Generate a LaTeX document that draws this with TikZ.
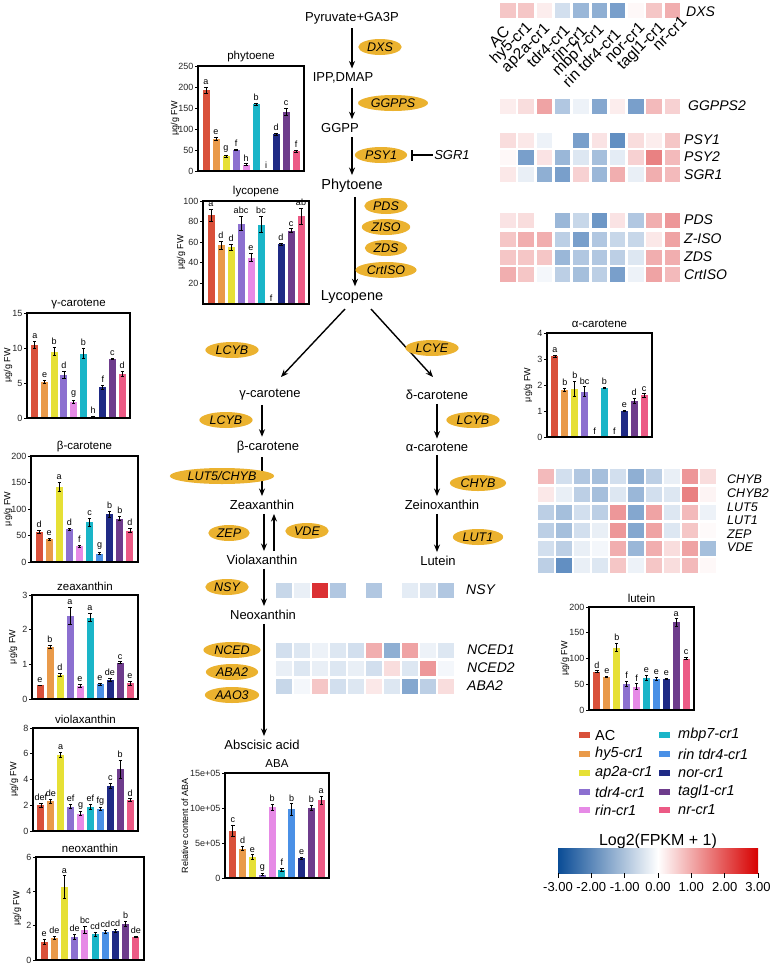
\documentclass[tikz,border=0pt]{standalone}
\usepackage{fontspec}
\setmainfont{Liberation Sans}
\usetikzlibrary{arrows.meta,shapes.geometric}
\newcommand\myfs[1]{\fontsize{#1}{#1}\selectfont}
\definecolor{gc1}{HTML}{D9503A}
\definecolor{gc2}{HTML}{E99A4A}
\definecolor{gc3}{HTML}{E6E035}
\definecolor{gc4}{HTML}{8C70D0}
\definecolor{gc5}{HTML}{E68AE6}
\definecolor{gc6}{HTML}{1AB5C8}
\definecolor{gc7}{HTML}{4A90E6}
\definecolor{gc8}{HTML}{1F2A85}
\definecolor{gc9}{HTML}{6E3C8C}
\definecolor{gc10}{HTML}{EC5A85}
\definecolor{hr}{HTML}{D7191C}
\definecolor{hb}{HTML}{1F5FA8}
\definecolor{ellc}{HTML}{EBB22F}
\definecolor{cbl}{HTML}{0A4C96}
\definecolor{cbr}{HTML}{D70000}
\tikzset{
 met/.style={inner sep=1pt,font=\myfs{13}},
 bigmet/.style={inner sep=1pt,font=\myfs{14.5}},
 enz/.style={ellipse,fill=ellc,inner xsep=2.5pt,inner ysep=0pt,minimum height=16pt,font=\myfs{12.5}\itshape},
 arr/.style={line width=1.4pt,-{Stealth[length=7.5pt,width=6pt]},shorten <=3pt,shorten >=3pt},
 cframe/.style={line width=2.3pt},
 ebar/.style={line width=0.9pt},
 blet/.style={anchor=south,inner sep=0pt,font=\myfs{9}},
 tlab/.style={anchor=east,inner sep=0.5pt,font=\myfs{9},text=black!85},
 ctit/.style={inner sep=0pt,font=\myfs{11.5}},
 ylab/.style={rotate=90,inner sep=0pt,font=\myfs{9}},
 glab/.style={anchor=west,inner sep=0pt,font=\myfs{14}\itshape},
 slab/.style={anchor=west,inner sep=0pt,font=\myfs{12.5}\itshape},
 clab/.style={anchor=east,rotate=45,inner sep=0pt,font=\myfs{15.5}},
 leg/.style={anchor=west,inner sep=0pt,font=\myfs{14.5}},
}
% bar chart: #1 id, #2 x0, #3 ytop, #4 x1, #5 ybot, #6 ymax, #7 title, #8 ticks, #9 data
\newcommand\bchart[9]{%
 \pgfmathsetmacro\cs{(#5-#3)/#6}%
 \pgfmathsetmacro\cp{(#4-#2-6)/10}%
 \foreach \bv/\be/\bl [count=\bi] in {#9}{%
   \pgfmathsetmacro\xc{#2+3+(\bi-0.5)*\cp}%
   \pgfmathsetmacro\yt{#5-\bv*\cs}%
   \pgfmathsetmacro\ye{#5-(\bv+\be)*\cs}%
   \pgfmathsetmacro\yl{#5-(\bv-\be)*\cs}%
   \fill[gc\bi] (\xc-3.5,#5) rectangle (\xc+3.5,\yt);
   \draw[ebar] (\xc,\ye) -- (\xc,\yl) (\xc-1.6,\ye) -- (\xc+1.6,\ye) (\xc-1.6,\yl) -- (\xc+1.6,\yl);
   \node[blet] (#1l\bi) at (\xc,\ye-2.5) {\bl};
 }%
 \draw[cframe] (#2,#3) rectangle (#4,#5);
 \foreach \tv/\tl [count=\ti] in {#8}{%
   \pgfmathsetmacro\yy{#5-\tv*\cs}%
   \draw[line width=0.8pt] (#2-1,\yy) -- (#2-3.5,\yy);
   \node[tlab] (#1t\ti) at (#2-4,\yy) {\tl};
 }%
 \node[ctit] (#1title) at ({(#2+#4)/2},#3-9) {#7};
 \node[ylab] (#1ylab) at (#2-\ylaboff,{(#3+#5)/2}) {\ylabtext};
}
% heat row: #1 x start, #2 y center, #3 pitch, #4 values
\newcommand\hrow[4]{%
 \foreach \hv [count=\hi] in {#4}{%
   \pgfmathtruncatemacro\ha{abs(\hv)}%
   \ifnum\hv<0 \def\hc{hb}\else\def\hc{hr}\fi
   \fill[\hc!\ha!white] ({#1+(\hi-1)*#3},{#2-7.5}) rectangle ++(15.5,15);
 }}
\begin{document}
\begin{tikzpicture}[x=1pt,y=-1pt]
\useasboundingbox (0,0) rectangle (777,967);
\fill[white] (0,0) rectangle (777,967);
% ---------------- pathway ----------------
\node[met] (pyr) at (352,18) {Pyruvate+GA3P};
\node[met] (ipp) at (343,78) {IPP,DMAP};
\node[met] (ggpp) at (340,128) {GGPP};
\node[bigmet] (phy) at (352,186) {Phytoene};
\node[bigmet] (lyc) at (352,297) {Lycopene};
\draw[arr] (pyr.south) -- (pyr.south |- ipp.north);
\draw[arr] ([xshift=9pt]ipp.south) -- ([xshift=9pt]ipp.south |- ggpp.north);
\draw[arr] ([xshift=12pt]ggpp.south) -- ([xshift=12pt]ggpp.south |- phy.north);
\draw[arr] ([xshift=3pt]phy.south) -- ([xshift=3pt]phy.south |- lyc.north);
\node[enz] (dxs) at (380,47) {DXS};
\node[enz] (ggpps) at (393,103) {GGPPS};
\node[enz] (psy) at (381,155) {PSY1};
\node[met,font=\myfs{13}\itshape] (sgr) at (452,155) {SGR1};
\draw[line width=1.3pt,-{Bar[width=11pt,line width=1.3pt]}] (sgr.west) -- ([xshift=4pt]psy.east);
\node[enz] (pds) at (386,206) {PDS};
\node[enz] (ziso) at (386,227) {ZISO};
\node[enz] (zds) at (386,248) {ZDS};
\node[enz] (crtiso) at (386,270) {CrtISO};
% branches
\node[met] (gcar) at (270,395) {γ-carotene};
\node[met] (bcar) at (268,447) {β-carotene};
\node[met] (zea) at (262,505) {Zeaxanthin};
\node[met] (vio) at (262,560) {Violaxanthin};
\node[met] (neo) at (263,615) {Neoxanthin};
\node[met] (absc) at (262,745) {Abscisic acid};
\node[met] (dcar) at (437,395) {δ-carotene};
\node[met] (acar) at (437,447) {α-carotene};
\node[met] (zein) at (442,505) {Zeinoxanthin};
\node[met] (lute) at (438,561) {Lutein};
\coordinate (ls) at (345,309);
\coordinate (le) at (281,377);
\coordinate (rs) at (371,309);
\coordinate (re) at (433,377);
\draw[arr,shorten <=0pt,shorten >=0pt] (ls) -- (le);
\draw[arr,shorten <=0pt,shorten >=0pt] (rs) -- (re);
\node[enz] (lcyb1) at (232,350) {LCYB};
\node[enz] (lcye) at (432,348) {LCYE};
\draw[arr] (gcar.south -| 262,0) -- (bcar.north -| 262,0);
\draw[arr] (bcar.south -| 262,0) -- (zea.north -| 262,0);
\draw[arr] (zea.south -| 264,0) -- (vio.north -| 264,0);
\draw[arr] (vio.north -| 274,0) -- (zea.south -| 274,0);
\draw[arr] (vio.south -| 264,0) -- (neo.north -| 264,0);
\draw[arr] (neo.south -| 264,0) -- (absc.north -| 264,0);
\draw[arr] (dcar.south -| 437,0) -- (acar.north -| 437,0);
\draw[arr] (acar.south -| 437,0) -- (zein.north -| 437,0);
\draw[arr] (zein.south -| 437,0) -- (lute.north -| 437,0);
\node[enz] (lcyb2) at (226,420) {LCYB};
\node[enz] (lutchyb) at (222,476) {LUT5/CHYB};
\node[enz] (zep) at (229,533) {ZEP};
\node[enz] (vde) at (307,531) {VDE};
\node[enz] (nsy) at (227,587) {NSY};
\node[enz] (nced) at (232,650) {NCED};
\node[enz] (aba2) at (232,672) {ABA2};
\node[enz] (aao3) at (232,695) {AAO3};
\node[enz] (lcyb3) at (473,420) {LCYB};
\node[enz] (chyb) at (478,483) {CHYB};
\node[enz] (lut1) at (478,537) {LUT1};
% ---------------- heatmaps ----------------
\hrow{500}{10}{18.3}{25,25,8,-20,-45,-50,-60,3,25,35}
\hrow{500}{106}{18.3}{8,15,40,-35,-8,-55,8,-60,30,20}
\hrow{500}{140}{18.3}{15,10,-8,0,-60,12,-70,15,8,25}
\hrow{500}{157}{18.3}{3,-60,12,-45,-15,-40,-12,20,55,30}
\hrow{500}{174}{18.3}{10,-10,-50,-60,20,-45,35,-10,35,30}
\hrow{500}{220}{18.3}{12,15,0,-45,-25,-65,12,-35,35,45}
\hrow{500}{239}{18.3}{25,35,35,-30,-60,-35,-25,-25,10,40}
\hrow{500}{257}{18.3}{25,25,25,-45,-35,-35,-30,-15,35,35}
\hrow{500}{274}{18.3}{35,25,-5,-30,-40,-30,-60,-8,40,30}
\node[glab] (hDXS) at (686,12) {DXS};
\node[glab] (hGGPPS2) at (688,106) {GGPPS2};
\node[glab] (hPSY1) at (684,140) {PSY1};
\node[glab] (hPSY2) at (684,157) {PSY2};
\node[glab] (hSGR1) at (684,175) {SGR1};
\node[glab] (hPDS) at (684,220) {PDS};
\node[glab] (hZISO) at (684,239) {Z-ISO};
\node[glab] (hZDS) at (684,257) {ZDS};
\node[glab] (hCrtISO) at (684,275) {CrtISO};
\foreach \cn/\cx/\cy [count=\ci] in {AC/507/29,hy5-cr1/530/25,ap2a-cr1/548/27,tdr4-cr1/567/27,rin-cr1/584/28,mbp7-cr1/602/27,rin tdr4-cr1/618/31,nor-cr1/642/25,tagl1-cr1/663/25,nr-cr1/684/19}{
  \node[clab] (col\ci) at (\cx,\cy) {\cn};
}
% CHYB block
\hrow{538}{476}{18}{30,-20,-35,-40,-20,-50,-30,-10,45,15}
\hrow{538}{494}{18}{10,-10,-30,-40,-15,-45,-20,-15,55,5}
\hrow{538}{512}{18}{-30,-40,-20,-30,45,-55,40,-15,30,-8}
\hrow{538}{530}{18}{-30,-40,-20,-10,45,-55,40,-15,25,2}
\hrow{538}{548}{18}{-20,-30,-10,-5,35,-45,35,15,40,-40}
\hrow{538}{565}{18}{-30,-70,-10,-15,25,-8,25,15,30,3}
\node[slab] (hCHYB) at (727,479) {CHYB};
\node[slab] (hCHYB2) at (727,493) {CHYB2};
\node[slab] (hLUT5) at (727,507) {LUT5};
\node[slab] (hLUT1) at (727,520) {LUT1};
\node[slab] (hZEP) at (727,534) {ZEP};
\node[slab] (hVDE) at (727,547) {VDE};
% NSY
\hrow{276}{590}{18}{-25,-10,90,-35,0,-35,0,-12,-18,-35}
\node[glab] (hNSY) at (466,590) {NSY};
% NCED
\hrow{276}{650}{18}{-20,-15,-8,-15,-20,35,-50,40,-8,-15}
\hrow{276}{668}{18}{-10,-15,-10,-15,-10,-20,15,-15,45,-5}
\hrow{276}{686}{18}{-25,-5,25,-20,-15,10,-15,-55,-30,15}
\node[glab] (hNCED1) at (467,650) {NCED1};
\node[glab] (hNCED2) at (467,668) {NCED2};
\node[glab] (hABA2) at (467,686) {ABA2};
% ---------------- charts ----------------
\def\ylabtext{μg/g FW}\def\ylaboff{23}
\bchart{ph}{198}{66}{304}{171}{250}{phytoene}{0/0,50/50,100/100,150/150,200/200,250/250}{192/8/a,76/4/e,35/3/g,50/2/f,15/2/h,159/3/b,0/0/i,87/2/d,141/8/c,47/2/f}
\def\ylaboff{22}
\bchart{ly}{203}{201}{309}{304}{100}{lycopene}{20/20,40/40,60/60,80/80,100/100}{86/6/a,57/4/d,55/3/d,78/7/abc,45/4/e,77/8/bc,0/0/f,58/1/d,71/2/c,85/8/ab}
\def\ylaboff{19}
\bchart{gc}{27}{313}{130}{418}{15}{γ-carotene}{0/0,5/5,10/10,15/15}{10.4/0.5/a,5.2/0.2/e,9.5/0.6/b,6.2/0.5/d,2.3/0.2/g,9.2/0.7/b,0.15/0.05/h,4.4/0.3/f,8.4/0.1/c,6.3/0.4/d}
\def\ylaboff{23}
\bchart{bc}{31}{456}{138}{562}{200}{β-carotene}{0/0,50/50,100/100,150/150,200/200}{56/3/d,43/2/e,142/8/a,62/2/d,30/2/f,75/7/c,16/2/g,90/6/b,82/4/b,59/4/d}
\def\ylaboff{19}
\bchart{ze}{32}{595}{138}{699}{3}{zeaxanthin}{0/0,1/1,2/2,3/3}{0.4/0/e,1.5/0.05/b,0.7/0.04/d,2.4/0.25/a,0.37/0.05/e,2.35/0.12/a,0.42/0.03/e,0.55/0.05/de,1.05/0.02/c,0.45/0.06/e}
\bchart{vi}{33}{728}{138}{831}{8}{violaxanthin}{0/0,2/2,4/4,6/6,8/8}{2.0/0.15/def,2.3/0.15/de,5.9/0.2/a,1.9/0.15/ef,1.35/0.15/g,1.9/0.2/ef,1.7/0.1/fg,3.5/0.2/c,4.8/0.7/b,2.4/0.1/d}
\bchart{ne}{36}{857}{144}{960}{6}{neoxanthin}{0/0,2/2,4/4,6/6}{1.05/0.15/e,1.3/0.08/de,4.25/0.65/a,1.35/0.15/de,1.75/0.2/bc,1.5/0.1/cd,1.65/0.1/cd,1.7/0.1/cd,2.1/0.15/b,1.35/0.05/de}
\bchart{ac}{547}{333}{652}{437}{4}{α-carotene}{0/0,1/1,2/2,3/3,4/4}{3.1/0.05/a,1.8/0.06/b,1.85/0.28/b,1.75/0.18/bc,0/0/f,1.9/0.02/b,0/0/f,1.0/0.03/e,1.4/0.1/d,1.6/0.06/c}
\def\ylaboff{24}
\bchart{lu}{589}{607}{694}{710}{200}{lutein}{0/0,50/50,100/100,150/150,200/200}{74/2/d,64/1/e,121/8/b,50/5/f,45/6/f,62/5/e,61/3/e,60/1/e,170/7/a,100/2/c}
\def\ylabtext{Relative content of ABA}\def\ylaboff{40}
\bchart{ab}{225}{773}{329}{878}{15}{ABA}{0/0,5/5e+05,10/10e+05,15/15e+05}{6.7/0.8/c,4.2/0.3/d,3.0/0.3/e,0.5/0.1/g,10.1/0.4/b,1.2/0.2/f,9.8/0.8/b,2.8/0.2/e,10.0/0.4/b,11.1/0.6/a}
% ---------------- legend ----------------
\foreach \gy/\gi in {735/1,754/2,773/3,792/4,810/5}{
  \fill[gc\gi] (579,\gy-3) rectangle (590,\gy+3);
}
\node[leg] (lg1) at (595,735) {AC};
\node[leg,font=\myfs{14.5}\itshape] (lg2) at (595,754) {hy5-cr1};
\node[leg,font=\myfs{14.5}\itshape] (lg3) at (595,773) {ap2a-cr1};
\node[leg,font=\myfs{14.5}\itshape] (lg4) at (595,792) {tdr4-cr1};
\node[leg,font=\myfs{14.5}\itshape] (lg5) at (595,810) {rin-cr1};
\foreach \gy/\gi in {735/6,754/7,773/8,792/9,810/10}{
  \fill[gc\gi] (659,\gy-3) rectangle (670,\gy+3);
}
\node[leg,font=\myfs{14.5}\itshape] (lg6) at (678,735) {mbp7-cr1};
\node[leg,font=\myfs{14.5}\itshape] (lg7) at (678,754) {rin tdr4-cr1};
\node[leg,font=\myfs{14.5}\itshape] (lg8) at (678,773) {nor-cr1};
\node[leg,font=\myfs{14.5}\itshape] (lg9) at (678,792) {tagl1-cr1};
\node[leg,font=\myfs{14.5}\itshape] (lg10) at (678,810) {nr-cr1};
% colour bar
\node[inner sep=0pt,font=\myfs{16}] (cbt) at (658,841) {Log2(FPKM + 1)};
\shade[left color=cbl,right color=cbr,middle color=white] (558,848) rectangle (758,873);
\foreach \tx/\tt [count=\ti] in {558/-3.00,591.3/-2.00,624.7/-1.00,658/0.00,691.3/1.00,724.7/2.00,758/3.00}{
  \draw[line width=1pt] (\tx,873) -- (\tx,878);
  \node[inner sep=0pt,font=\myfs{13}] (cbl\ti) at (\tx,887) {\tt};
}
\end{tikzpicture}
\end{document}
